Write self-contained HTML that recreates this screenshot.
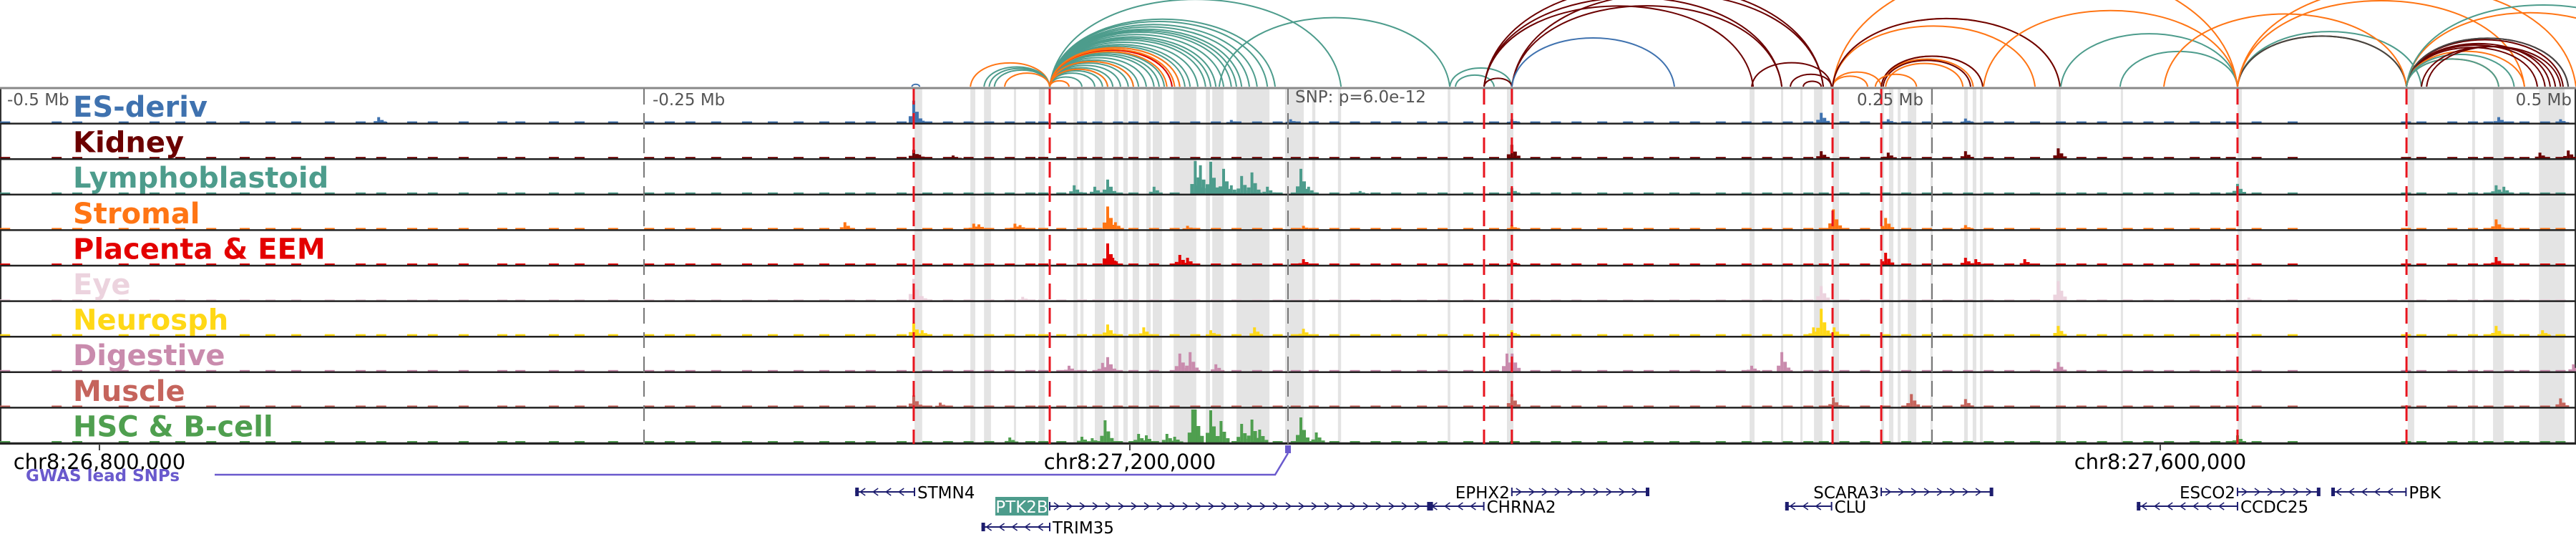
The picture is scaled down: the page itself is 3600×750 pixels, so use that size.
<!DOCTYPE html>
<html><head><meta charset="utf-8"><title>Locus view chr8</title>
<style>
html,body{margin:0;padding:0;background:#fff;}
svg{display:block;font-family:"DejaVu Sans","Liberation Sans",sans-serif;}
</style></head>
<body>
<svg id="chart" width="3600" height="750" viewBox="0 0 3600 750" xmlns="http://www.w3.org/2000/svg">
<defs><clipPath id="arcclip"><rect x="0" y="0" width="3600" height="122"/></clipPath></defs>
<g id="bands"></g>
<g id="tracks"></g>
<g id="vlines"></g>
<g id="arcs" clip-path="url(#arcclip)"></g>
<g id="labels"></g>
<g id="axis"></g>
<g id="genes"></g>
</svg>
<script>
// ---- data (positions in kb relative to lead SNP) ----
const trackNames = ["ES-deriv","Kidney","Lymphoblastoid","Stromal","Placenta & EEM","Eye","Neurosph","Digestive","Muscle","HSC & B-cell"];
const trackColors = ["#3f72af","#6b0000","#4d9c8c","#ff7514","#e30000","#ecd3de","#ffd816","#c98bad","#c5645c","#4f9f4f"];
const baseLevel = [2,2,2,2,2,1.5,2.5,2,2,2];
const siteKb = [-498,-478,-470,-452,-440,-430,-418,-405,-395,-385,-372,-360,-352,-340,-332,-320,-305,-298,-285,-275,-262,-248,-240,-232,-222,-210,-200,-190,-180,-170,-162,-150,-140,-132,-124,-116,-108,-100,-95,-88,-80,-74,-66,-60,-52,-44,-36,-28,-20,-12,-4,3,10,18,26,34,42,52,60,70,80,88,96,104,112,122,132,140,150,158,168,178,186,194,202,208,216,224,232,240,248,256,264,272,280,290,300,308,316,326,334,342,352,360,366,376,390,434,440,452,460,466,474,480,488,494];
const peaks = [
 [[-353,8],[-145.3,31],[-143,6],[-22,4],[1,5],[86.9,5],[207,14],[233,5],[263,6],[470,8],[494,5]],
 [[-145.3,12],[-143,5],[-130,4],[86.9,19],[207,10],[233,8],[263,10],[299,14],[486,8],[497,11]],
 [[-83,12],[-75,10],[-70,20],[-52,10],[-36,46],[-34,40],[-30,45],[-25,35],[-22,12],[-18,25],[-14,30],[-8,10],[5,35],[8,10],[28,4],[86.9,8],[368.6,14],[469,12],[472,10]],
 [[-172,10],[-122,8],[-120,7],[-106,8],[-104,6],[-70,32],[-67,10],[-39,5],[6,5],[86.9,6],[211.7,28],[232,16],[263,6],[469,14]],
 [[-70,30],[-68,10],[-42,14],[-39,10],[6,8],[86.9,6],[232,17],[263,10],[267,8],[286,8],[469,11]],
 [[-145.3,30],[-142,6],[-103,5],[207,20],[299,27],[373,4]],
 [[-145.3,18],[-142,8],[-70,16],[-56,12],[-30,8],[-13,12],[6,10],[86.9,8],[204,12],[207,38],[212,12],[299,14],[469,14],[487,8]],
 [[-85,8],[-72,12],[-70,20],[-42,25],[-38,27],[-28,10],[85,25],[87,25],[180,8],[191.7,27],[299,13],[499,10]],
 [[-145.3,16],[-135,6],[86.9,18],[211.7,13],[242,18],[263,11],[494,12]],
 [[-108,7],[-80,8],[-76,6],[-71,31],[-58,12],[-55,10],[-47,12],[-44,8],[-37,46],[-36,46],[-30,45],[-26,30],[-18,26],[-14,32],[-11,18],[5,35],[11,14],[368.6,10]]
];
const bandStart = [-145,-123.3,-118,-106.4,-96.7,-83.3,-80.6,-75,-67.5,-63.9,-60.3,-55,-52.5,-44.4,-31.9,-29.4,-20,-1.1,9.4,19.4,62,85,179.2,191.4,198.9,204.2,211.4,230.3,233.3,236.7,240.6,249.4,262.5,265.8,268.6,298.3,323.3,368.6,434.7,459.7,467.8,485.6];
const bandEnd   = [-142,-121.4,-115.3,-105.6,-94.4,-81.7,-79.4,-71.1,-65.8,-62.2,-57.8,-53.3,-48.9,-35.6,-30.3,-25,-7.2,6.1,10.6,20.6,63,87.5,181.1,192.2,199.7,207.5,213.9,231.4,235,237.8,243.9,250.3,263.9,267.2,269.7,300,323.9,370.3,437.2,460.8,471.9,495.6];
const redLines = [-145.3,-92.5,76.1,86.9,211.4,230.3,368.6,434.2];
const grayLines = [-250,0,250];
const arcStart = [];
const arcEnd = [];
const arcColor = [];
const tealEnds = [-80,-75,-72,-70,-68,-65,-62,-60,-58,-55,-52,-50,-48,-45,-42,-40,-38,-35,-32,-30,-28,-25,-22,-20,-18,-15,-12,-8,-5,20.6];
const arcList = [
 [-123.3,-92.5,"o"],[-118,-92.5,"t"],[-116,-92.5,"t"],[-114,-92.5,"t"],[-110,-92.5,"o"],[-146,-143,"b"],
 [-92.5,-47,"o"],[-92.5,-45,"r"],[-92.5,-44,"o"],[-92.5,-42,"o"],[-92.5,-70,"o"],[-92.5,-60,"o"],[-92.5,-85,"o"],
 [-26.7,62.8,"t"],[62.8,86.9,"t"],[65,80,"t"],
 [76.1,86.9,"d"],[76.1,180.6,"d"],[76.1,191.7,"d"],[86.9,207.8,"d"],[86.9,191.7,"d"],[76.1,207.8,"d"],[180,211,"d"],[195,211,"d"],[200,207,"d"],
 [86.9,150,"b"],
 [211.4,299.7,"o"],[211.4,290,"o"],[211.4,368.6,"o"],[211.4,230.3,"o"],[211.4,225,"o"],[230.3,269.7,"o"],[230.3,266,"o"],[232,262,"o"],[230.3,269.7,"d"],[231,265,"d"],[211.4,299.7,"d"],[228,244,"o"],
 [300,368.6,"t"],[323,368.6,"t"],[270,368.6,"o"],
 [368.6,434.2,"t"],[368.6,440,"t"],[368.6,434.2,"o"],[368.6,434.2,"g"],[368.6,480,"o"],[368.6,500,"o"],[340,434.2,"o"],
 [434.2,490,"d"],[434.2,495,"d"],[434.2,497,"d"],[434.2,488,"d"],[434.2,485,"d"],[434.2,480,"o"],[434.2,470,"o"],[434.2,470,"t"],[434.2,476,"t"],[434.2,497,"g"],[440,492,"d"],[442,494,"d"],[434.2,530,"o"],[434.2,540,"t"]
];
const genes = [
 {name:"STMN4",s:-168,e:-145,strand:-1,row:0,label:"right"},
 {name:"EPHX2",s:86.9,e:140,strand:1,row:0,label:"left"},
 {name:"SCARA3",s:230.3,e:273.5,strand:1,row:0,label:"left"},
 {name:"ESCO2",s:368.6,e:400.5,strand:1,row:0,label:"left"},
 {name:"PBK",s:405,e:434,strand:-1,row:0,label:"right"},
 {name:"PTK2B",s:-92.5,e:56,strand:1,row:1,label:"box"},
 {name:"CHRNA2",s:54,e:76,strand:-1,row:1,label:"right"},
 {name:"CLU",s:193,e:211,strand:-1,row:1,label:"right"},
 {name:"CCDC25",s:329.5,e:368.6,strand:-1,row:1,label:"right"},
 {name:"TRIM35",s:-119,e:-92.5,strand:-1,row:2,label:"right"}
];
const axisTicks = [26800000,27200000,27600000];
const snpPos = 27261400;

// ---- scales ----
const NS="http://www.w3.org/2000/svg";
const X = kb => 1800 + kb*3.6;
const gX = bp => X((bp - snpPos)/1000);
const TOP = 124, ROWH = 49.6;
const rowBottom = i => TOP + ROWH*(i+1) - 2;
function mk(tag, attrs, parent){ const el=document.createElementNS(NS,tag); for(const k in attrs) el.setAttribute(k,attrs[k]); parent.appendChild(el); return el; }
const colorMap = {t:"#4d9c8c",o:"#ff7514",r:"#e30000",d:"#6b0000",b:"#3f72af",g:"#444444"};

// bands
const bands=document.getElementById("bands");
for(let i=0;i<bandStart.length;i++){
  const r=mk("rect",{x:X(bandStart[i]),y:TOP,width:Math.max(3,X(bandEnd[i])-X(bandStart[i])),height:ROWH*10,fill:"#e4e4e4"},bands);
  
  
}

// tracks
const tracks=document.getElementById("tracks");
mk("rect",{x:1,y:TOP-1,width:3598,height:ROWH*10+1,fill:"none",stroke:"#333","stroke-width":2},tracks);
mk("line",{x1:0,y1:TOP-1,x2:3600,y2:TOP-1,stroke:"#888","stroke-width":3},tracks);
for(let t=0;t<trackNames.length;t++){
  const g=mk("g",{},tracks);
  
  
  const yb=rowBottom(t), c=trackColors[t];
  for(const s of siteKb){ mk("rect",{x:X(s)-7,y:yb-baseLevel[t],width:14,height:baseLevel[t],fill:c},g); }
  for(const p of peaks[t]){
    const x=X(p[0]), h=p[1];
    mk("rect",{x:x-7,y:yb-h*0.3,width:5,height:h*0.3,fill:c},g);
    mk("rect",{x:x-2,y:yb-h,width:4,height:h,fill:c},g);
    mk("rect",{x:x+2,y:yb-h*0.5,width:5,height:h*0.5,fill:c},g);
    mk("rect",{x:x+7,y:yb-h*0.2,width:5,height:h*0.2,fill:c},g);
  }
  mk("line",{x1:0,y1:yb+1,x2:3600,y2:yb+1,stroke:"#222","stroke-width":2.5},g);
}

// vertical lines
const vl=document.getElementById("vlines");
for(const k of grayLines){
  const l=mk("line",{x1:X(k),y1:TOP,x2:X(k),y2:TOP+ROWH*10,stroke:"#777","stroke-width":2,"stroke-dasharray":"22 12"},vl);
  
  
}
for(const k of redLines){
  const l=mk("line",{x1:X(k),y1:TOP,x2:X(k),y2:TOP+ROWH*10,stroke:"#e8141e","stroke-width":3,"stroke-dasharray":"22 12"},vl);
  
  
}

// arcs
for(const e of tealEnds){ arcStart.push(-92.5); arcEnd.push(e); arcColor.push("t"); }
for(const a of arcList){ arcStart.push(a[0]); arcEnd.push(a[1]); arcColor.push(a[2]); }
const arcs=document.getElementById("arcs");
for(let i=0;i<arcStart.length;i++){
  const x1=X(Math.min(arcStart[i],arcEnd[i])), x2=X(Math.max(arcStart[i],arcEnd[i]));
  const w=x2-x1, h=w*0.3, base=121;
  const p=mk("path",{d:`M${x1},${base} C${x1+w*0.05},${base-h*1.33} ${x2-w*0.05},${base-h*1.33} ${x2},${base}`,fill:"none",stroke:colorMap[arcColor[i]],"stroke-width":2},arcs);
  
  
}

// labels
const lab=document.getElementById("labels");
for(let t=0;t<trackNames.length;t++){
  const tx=mk("text",{x:102,y:TOP+ROWH*t+39,"font-size":40,"font-weight":"bold",fill:trackColors[t]},lab);
  tx.textContent=trackNames[t];
  
  
}
const distLabels=[["-0.5 Mb",10,"start"],["-0.25 Mb",912,"start"],["0.25 Mb",2688,"end"],["0.5 Mb",3594,"end"]];
for(const d of distLabels){
  const tx=mk("text",{x:d[1],y:147,"font-size":23,fill:"#555","text-anchor":d[2]},lab);
  tx.textContent=d[0];
  
  
}
const snpT=mk("text",{x:1810,y:143,"font-size":23,fill:"#555"},lab);
snpT.textContent="SNP: p=6.0e-12";



// axis
const ax=document.getElementById("axis");
for(const b of axisTicks){
  mk("line",{x1:gX(b),y1:620,x2:gX(b),y2:629,stroke:"#444","stroke-width":2},ax);
  const tx=mk("text",{x:gX(b),y:655,"font-size":29,"text-anchor":"middle",fill:"#000"},ax);
  tx.textContent="chr8:"+b.toLocaleString("en-US");
  
  
}
// GWAS
const gw=mk("g",{},ax);


mk("path",{d:`M300,663 L${X(-5)},663 L${X(0)},633`,fill:"none",stroke:"#6a5acd","stroke-width":2.5},gw);
mk("rect",{x:X(0)-4,y:622,width:8,height:11,fill:"#6a5acd"},gw);
const gt=mk("text",{x:36,y:672,"font-size":23,"font-weight":"bold",fill:"#6a5acd"},gw);
gt.textContent="GWAS lead SNPs";

// genes
const gn=document.getElementById("genes");
const rowY=[687,707,736];
for(const g of genes){
  const grp=mk("g",{},gn);
  
  
  const x1=X(g.s), x2=X(g.e), y=rowY[g.row], col="#1d1d6e";
  mk("line",{x1:x1,y1:y,x2:x2,y2:y,stroke:col,"stroke-width":2},grp);
  for(let x=x1+10;x<x2-6;x+=18){
    const d=g.strand>0?`M${x-4},${y-5} L${x+3},${y} L${x-4},${y+5}`:`M${x+4},${y-5} L${x-3},${y} L${x+4},${y+5}`;
    mk("path",{d:d,fill:"none",stroke:col,"stroke-width":1.5},grp);
  }
  mk("rect",{x:(g.strand>0?x2-4:x1),y:y-6,width:5,height:12,fill:col},grp);
  mk("line",{x1:(g.strand>0?x1:x2),y1:y-6,x2:(g.strand>0?x1:x2),y2:y+6,stroke:col,"stroke-width":2},grp);
  let tx;
  if(g.label==="box"){
    mk("rect",{x:x1-76,y:y-13,width:74,height:26,fill:"#4d9c8c"},grp);
    tx=mk("text",{x:x1-39,y:y+9,"font-size":23,"text-anchor":"middle",fill:"#fff"},grp);
  } else if(g.label==="left"){
    tx=mk("text",{x:x1-3,y:y+9,"font-size":23,"text-anchor":"end",fill:"#000"},grp);
  } else {
    tx=mk("text",{x:x2+4,y:y+9,"font-size":23,fill:"#000"},grp);
  }
  tx.textContent=g.name;
}
</script>
</body></html>
